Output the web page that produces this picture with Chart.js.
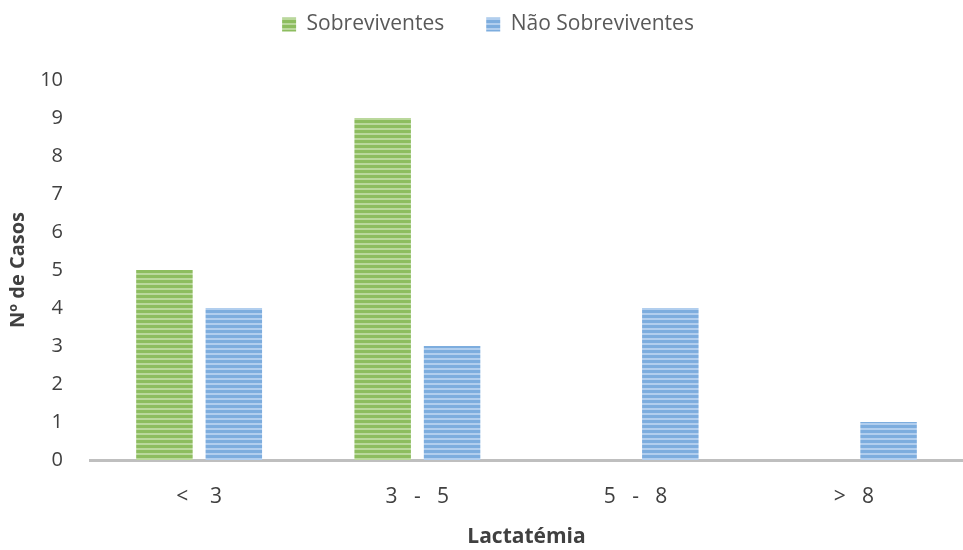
<!DOCTYPE html>
<html>
<head>
<meta charset="utf-8">
<script src="https://cdn.jsdelivr.net/npm/chart.js@4"></script>
<style>
  html, body { margin: 0; padding: 0; background: #ffffff; }
  #wrap { width: 963px; height: 550px; }
</style>
</head>
<body>
<div id="wrap"><canvas id="grafico"></canvas></div>
<script>
const categorias = ['<    3', '3   -   5', '5   -   8', '>   8'];
const sobreviventes = [5, 9, 0, 0];
const naoSobreviventes = [4, 3, 4, 1];
const ticksY = [0, 1, 2, 3, 4, 5, 6, 7, 8, 9, 10];

// padrão de listras horizontais como no original
function listras(base, claro) {
    const c = document.createElement('canvas');
    c.width = 8; c.height = 5;
    const g = c.getContext('2d');
    g.fillStyle = base; g.fillRect(0, 0, 8, 5);
    g.fillStyle = claro; g.fillRect(0, 3, 8, 2);
    return g.createPattern(c, 'repeat');
}

// altura fixa da legenda (o topo da área do gráfico fica em ~80px)
const alturaLegenda = {
    id: 'alturaLegenda',
    beforeInit(chart) {
        const fitOriginal = chart.legend.fit;
        chart.legend.fit = function () {
            fitOriginal.bind(chart.legend)();
            this.height = 108;
        };
    }
};

const ctx = document.getElementById('grafico').getContext('2d');
const fonte = "'Open Sans', 'Noto Sans', sans-serif";

new Chart(ctx, {
    type: 'bar',
    data: {
        labels: categorias,
        datasets: [{
            label: 'Sobreviventes',
            data: sobreviventes,
            backgroundColor: listras('#8dbd5f', '#bad89c'),
            borderWidth: 0,
            categoryPercentage: 0.636,
            barPercentage: 0.814
        }, {
            label: 'Não Sobreviventes',
            data: naoSobreviventes,
            backgroundColor: listras('#7dadde', '#b1ceee'),
            borderWidth: 0,
            categoryPercentage: 0.636,
            barPercentage: 0.814
        }]
    },
    plugins: [alturaLegenda],
    options: {
        responsive: true,
        maintainAspectRatio: false,
        animation: false,
        layout: { padding: { left: 6, right: -7, top: -28, bottom: 0 } },
        plugins: {
            legend: {
                position: 'top',
                labels: {
                    color: '#595959',
                    font: { family: fonte, size: 21 },
                    boxWidth: 14,
                    boxHeight: 14,
                    padding: 42
                }
            },
            tooltip: { enabled: false }
        },
        scales: {
            x: {
                grid: { display: false, drawTicks: false },
                border: { color: '#bfbfbf', width: 3 },
                ticks: { color: '#404040', font: { family: fonte, size: 21 }, padding: 24 },
                afterFit: (s) => { s.height = 90; s.paddingLeft = 0; s.paddingRight = 0; },
                title: {
                    display: true,
                    text: 'Lactatémia',
                    color: '#404040',
                    font: { family: fonte, size: 21, weight: 'bold' },
                    padding: { top: 0, bottom: 0 }
                }
            },
            y: {
                min: 0,
                max: 10,
                afterBuildTicks: (ax) => { ax.ticks = ticksY.map(v => ({ value: v })); },
                afterFit: (s) => { s.width = 84; },
                grid: { display: false },
                border: { display: false },
                ticks: { color: '#404040', font: { family: fonte, size: 20 }, padding: 19 },
                title: {
                    display: true,
                    text: 'Nº de Casos',
                    color: '#404040',
                    font: { family: fonte, size: 20, weight: 'bold' },
                    padding: { top: 0, bottom: 0 }
                }
            }
        }
    }
});
</script>
</body>
</html>
